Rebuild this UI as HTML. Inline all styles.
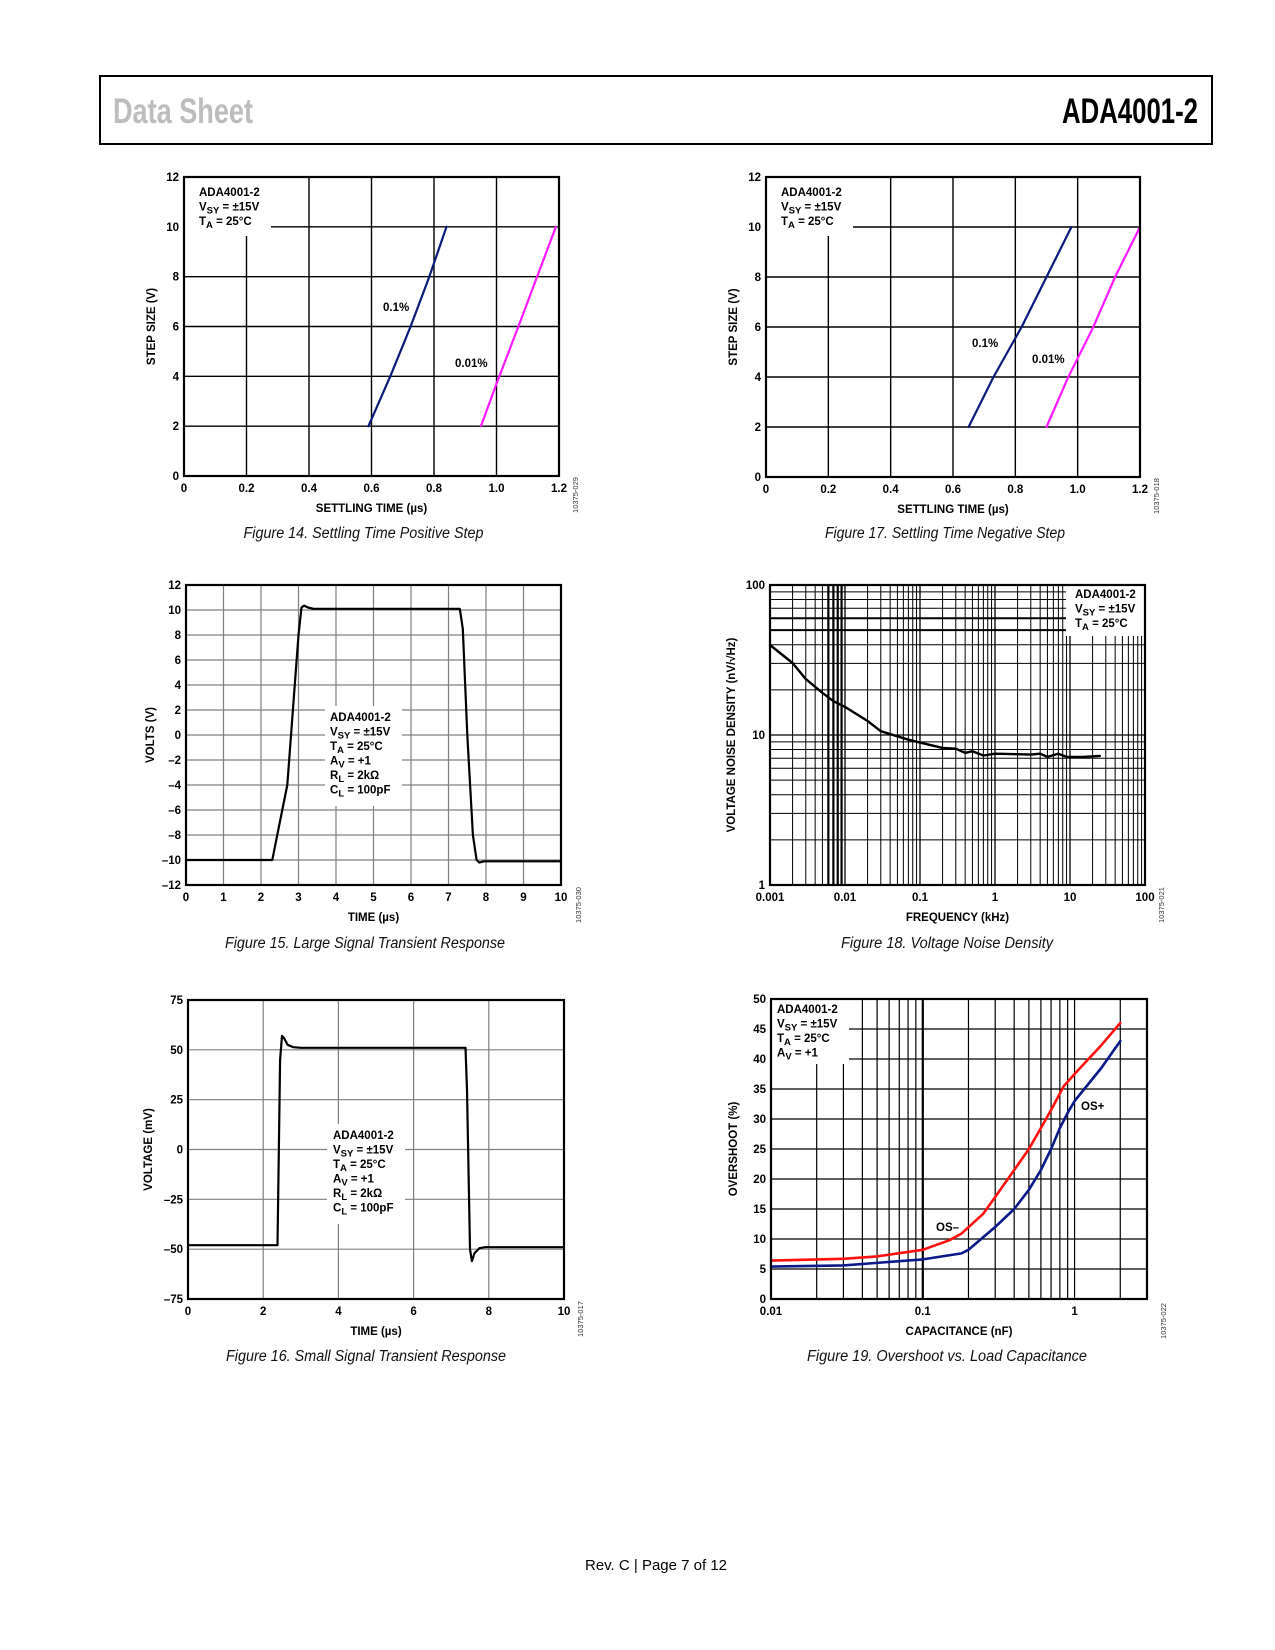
<!DOCTYPE html>
<html><head><meta charset="utf-8"><title>ADA4001-2 Data Sheet page 7</title>
<style>
html,body{margin:0;padding:0;background:#fff;}
svg{display:block;}
text{font-family:"Liberation Sans",Arial,sans-serif;}
</style></head>
<body>
<svg id="page" width="1275" height="1650" viewBox="0 0 1275 1650" xmlns="http://www.w3.org/2000/svg">
<rect x="100" y="76" width="1112" height="68" fill="#fff" stroke="#000" stroke-width="2"/>
<text x="113" y="123" font-size="35" fill="#bdbdbd" font-weight="bold" textLength="140" lengthAdjust="spacingAndGlyphs">Data Sheet</text>
<text x="1062" y="123" font-size="35" fill="#000" font-weight="bold" textLength="136" lengthAdjust="spacingAndGlyphs">ADA4001-2</text>
<text x="656" y="1570" font-size="15" text-anchor="middle" fill="#000">Rev. C | Page 7 of 12</text>
</svg>
<script>
// ---------- DATA ----------
const f14_x_ticks = ["0","0.2","0.4","0.6","0.8","1.0","1.2"];
const f14_y_ticks = ["0","2","4","6","8","10","12"];
const f14_p1_t = [0.59,0.66,0.725,0.785,0.84];
const f14_p1_v = [2,4,6,8,10];
const f14_p01_t = [0.95,1.0,1.07,1.13,1.19];
const f14_p01_v = [2,3.7,6,8,10];

const f17_p1_t = [0.65,0.73,0.82,0.90,0.98];
const f17_p1_v = [2,4,6,8,10];
const f17_p01_t = [0.90,0.97,1.05,1.12,1.2];
const f17_p01_v = [2,4,6,8,10];

const f15_x_ticks = ["0","1","2","3","4","5","6","7","8","9","10"];
const f15_y_ticks = ["–12","–10","–8","–6","–4","–2","0","2","4","6","8","10","12"];
const f15_t = [0,2.3,2.4,2.7,3.0,3.08,3.15,3.25,3.4,7.3,7.38,7.5,7.65,7.75,7.82,7.95,10];
const f15_v = [-10,-10,-8.5,-4,8,10.2,10.35,10.2,10.1,10.1,8.5,0,-8,-10,-10.2,-10.1,-10.1];

const f16_x_ticks = ["0","2","4","6","8","10"];
const f16_y_ticks = ["–75","–50","–25","0","25","50","75"];
const f16_t = [0,2.38,2.45,2.5,2.55,2.65,2.8,3.0,7.38,7.42,7.5,7.55,7.62,7.75,7.9,10];
const f16_v = [-48,-48,45,57,56,52.5,51.3,51,51,30,-50,-56,-52,-49.5,-49,-49];

const f18_x_ticks = ["0.001","0.01","0.1","1","10","100"];
const f18_y_ticks = ["1","10","100"];
const f18_f = [0.001,0.002,0.003,0.005,0.007,0.01,0.02,0.03,0.05,0.07,0.1,0.2,0.3,0.4,0.5,0.7,1,2,3,4,5,7,9,15,25];
const f18_n = [39.8,30.2,23.6,19.1,16.8,15.4,12.4,10.6,9.8,9.3,8.9,8.2,8.1,7.6,7.8,7.3,7.5,7.45,7.4,7.5,7.15,7.5,7.15,7.15,7.25];

const f19_x_ticks = ["0.01","0.1","1"];
const f19_y_ticks = ["0","5","10","15","20","25","30","35","40","45","50"];
const f19_c = [0.01,0.03,0.05,0.1,0.15,0.18,0.25,0.3,0.4,0.5,0.6,0.7,0.85,1,1.5,2];
const f19_osm = [6.4,6.7,7.1,8.2,9.8,10.9,14.2,17,21.5,25,28.5,31.5,35.5,37.5,42.3,46];
const f19_osp_c = [0.01,0.03,0.1,0.18,0.2,0.3,0.4,0.5,0.6,0.7,0.8,0.9,1,1.5,2];
const f19_osp = [5.4,5.6,6.6,7.6,8.2,12,15,18.2,21.5,25,28.5,31,33,38.5,43];

// ---------- HELPERS ----------
const NS = "http://www.w3.org/2000/svg";
const page = document.getElementById('page');
function mk(tag, parent, attrs){
  const e = document.createElementNS(NS, tag);
  for (const k in attrs) e.setAttribute(k, attrs[k]);
  parent.appendChild(e);
  return e;
}
function lin(a,b,p0,p1){ return v => p0 + (v-a)/(b-a)*(p1-p0); }
function logs(a,b,p0,p1){ const la=Math.log10(a), lb=Math.log10(b); return v => p0 + (Math.log10(v)-la)/(lb-la)*(p1-p0); }
function vline(g,x,y0,y1,col,w){
  const l = mk('line', g, {x1:x,x2:x,y1:y0,y2:y1,stroke:col,'stroke-width':w});
  
  
}
function hline(g,y,x0,x1,col,w){
  const l = mk('line', g, {x1:x0,x2:x1,y1:y,y2:y,stroke:col,'stroke-width':w});
  
  
}
function txt(g,x,y,s,size,anchor,extra){
  const t = mk('text', g, Object.assign({x:x,y:y,'font-size':size,'text-anchor':anchor||'start',fill:'#000'}, extra||{}));
  t.textContent = s;
  return t;
}
function series(g, xs, ys, fx, fy, col, w, name){
  let d = '';
  for (let i=0;i<xs.length;i++) d += (i?'L':'M') + fx(xs[i]).toFixed(1) + ' ' + fy(ys[i]).toFixed(1);
  const p = mk('path', g, {d:d, fill:'none', stroke:col, 'stroke-width':w, 'stroke-linejoin':'round','stroke-linecap':'round'});
  
  
}
function legend(g, x, y0, lines, anchor){
  lines.forEach((ln,i)=>{
    const t = mk('text', g, {x:x, y:y0+i*14.5, 'font-size':11.5, 'font-weight':'bold', fill:'#000'});
    
    
    const a = mk('tspan', t, {}); a.textContent = ln[0];
    if (ln.length>1){
      const b = mk('tspan', t, {dy:3,'font-size':9.5}); b.textContent = ln[1];
      const c = mk('tspan', t, {dy:-3}); c.textContent = ln[2];
    }
  });
}
function whiteBox(g,x,y,w,h){
  const r = mk('rect', g, {x:x,y:y,width:w,height:h,fill:'#fff'});
  
  
}
function frame(g,c){
  const r = mk('rect', g, {x:c.L,y:c.T,width:c.R-c.L,height:c.B-c.T,fill:'none',stroke:'#000','stroke-width':2.2});
  
  
}
function axisTitles(g,c,xt,yt,yx){
  const a = txt(g,(c.L+c.R)/2,c.B+36,xt,11.5,'middle',{'font-weight':'bold'});
  
  
  const cy=(c.T+c.B)/2;
  const b = txt(g,yx,cy,yt,11.5,'middle',{'font-weight':'bold',transform:`rotate(-90 ${yx} ${cy})`});
  
  
}
function caption(g,x,y,s,len){
  const t = txt(g,x,y,s,15.5,'middle',{'font-style':'italic',textLength:len,lengthAdjust:'spacingAndGlyphs',fill:'#111'});
  
  
}
function figId(g,x,y,s){
  const t = txt(g,x,y,s,7.5,'middle',{transform:`rotate(-90 ${x} ${y})`,fill:'#333'});
  
  
}
function xTickLabels(g,c,vals,labels,fx){
  labels.forEach((s,i)=>{
    const t = txt(g,fx(vals[i]),c.B+16,s,11.5,'middle',{'font-weight':'bold'});
    
    
  });
}
function yTickLabels(g,c,vals,labels,fy){
  labels.forEach((s,i)=>{
    const t = txt(g,c.L-5,fy(vals[i])+4,s,11.5,'end',{'font-weight':'bold'});
    
    
  });
}
const stdLegend = [["ADA4001-2"],["V","SY"," = ±15V"],["T","A"," = 25°C"]];
const extLegend = [["ADA4001-2"],["V","SY"," = ±15V"],["T","A"," = 25°C"],["A","V"," = +1"],["R","L"," = 2kΩ"],["C","L"," = 100pF"]];

// ---------- SETTLING CHARTS (Fig 14 & 17) ----------
function settling(c, name, p1t, p1v, p01t, p01v, lab1, lab01, cap, id){
  const g = mk('g', page, {});
  
  
  const fx = lin(0,1.2,c.L,c.R), fy = lin(0,12,c.B,c.T);
  const xv = f14_x_ticks.map(Number), yv = f14_y_ticks.map(Number);
  xv.forEach(v=>vline(g,fx(v),c.T,c.B,'#000',1.4));
  yv.forEach(v=>hline(g,fy(v),c.L,c.R,'#000',1.4));
  whiteBox(g,c.L+1,c.T+1,86,58);
  legend(g,c.L+15,c.T+19,stdLegend);
  series(g,p1t,p1v,fx,fy,'#0a1a7a',2.2,'series-0.1-percent');
  series(g,p01t,p01v,fx,fy,'#ff1aff',2.2,'series-0.01-percent');
  let t = txt(g,lab1[0],lab1[1],'0.1%',11.5,'start',{'font-weight':'bold'});
  
  
  t = txt(g,lab01[0],lab01[1],'0.01%',11.5,'start',{'font-weight':'bold'});
  
  
  frame(g,c);
  xTickLabels(g,c,xv,f14_x_ticks,fx);
  yTickLabels(g,c,yv,f14_y_ticks,fy);
  axisTitles(g,c,'SETTLING TIME (µs)','STEP SIZE (V)',c.L-29);
  caption(g,(c.L+c.R)/2-8,538,cap,240);
  figId(g,c.R+19,c.B+19,id);
}
settling({L:184,R:559,T:177,B:476},'chart-settling-positive',f14_p1_t,f14_p1_v,f14_p01_t,f14_p01_v,[383,311],[455,367],'Figure 14. Settling Time Positive Step','10375-029');
settling({L:766,R:1140,T:177,B:477},'chart-settling-negative',f17_p1_t,f17_p1_v,f17_p01_t,f17_p01_v,[972,347],[1032,363],'Figure 17. Settling Time Negative Step','10375-018');

// ---------- TRANSIENT CHARTS (Fig 15 & 16) ----------
(function(){
  const c = {L:186,R:561,T:585,B:885};
  const g = mk('g', page, {});
  
  
  const fx = lin(0,10,c.L,c.R), fy = lin(-12,12,c.B,c.T);
  const xv = f15_x_ticks.map(Number), yv = f15_y_ticks.map(s=>Number(s.replace('–','-')));
  xv.forEach(v=>vline(g,fx(v),c.T,c.B,'#808080',1.2));
  yv.forEach(v=>hline(g,fy(v),c.L,c.R,'#808080',1.2));
  whiteBox(g,325,706,77,100);
  legend(g,330,721,extLegend);
  series(g,f15_t,f15_v,fx,fy,'#000',2.2,'series-large-signal');
  frame(g,c);
  xTickLabels(g,c,xv,f15_x_ticks,fx);
  yTickLabels(g,c,yv,f15_y_ticks,fy);
  axisTitles(g,c,'TIME (µs)','VOLTS (V)',c.L-32);
  caption(g,365,948,'Figure 15. Large Signal Transient Response',280);
  figId(g,c.R+20,c.B+20,'10375-030');
})();
(function(){
  const c = {L:188,R:564,T:1000,B:1299};
  const g = mk('g', page, {});
  
  
  const fx = lin(0,10,c.L,c.R), fy = lin(-75,75,c.B,c.T);
  const xv = f16_x_ticks.map(Number), yv = f16_y_ticks.map(s=>Number(s.replace('–','-')));
  xv.forEach(v=>vline(g,fx(v),c.T,c.B,'#808080',1.2));
  yv.forEach(v=>hline(g,fy(v),c.L,c.R,'#808080',1.2));
  whiteBox(g,327,1124,78,100);
  legend(g,333,1139,extLegend);
  series(g,f16_t,f16_v,fx,fy,'#000',2.2,'series-small-signal');
  frame(g,c);
  xTickLabels(g,c,xv,f16_x_ticks,fx);
  yTickLabels(g,c,yv,f16_y_ticks,fy);
  axisTitles(g,c,'TIME (µs)','VOLTAGE (mV)',c.L-36);
  caption(g,366,1361,'Figure 16. Small Signal Transient Response',280);
  figId(g,c.R+19,c.B+20,'10375-017');
})();

// ---------- NOISE DENSITY (Fig 18) ----------
(function(){
  const c = {L:770,R:1145,T:585,B:885};
  const g = mk('g', page, {});
  
  
  const fx = logs(0.001,100,c.L,c.R), fy = logs(1,100,c.B,c.T);
  for (let d=0.001; d<99; d*=10){
    for (let k=1;k<=9;k++){
      const v=k*d; const thick = (k>=6 && d===0.001) ? 2.2 : 1;
      vline(g,fx(v),c.T,c.B,'#000',k===1?1.3:thick);
    }
  }
  for (let d=1; d<99; d*=10){
    for (let k=1;k<=9;k++){
      const v=k*d; const thick = (d===10 && (k===5||k===6)) ? 2 : 1;
      hline(g,fy(v),c.L,c.R,'#000',k===1?1.3:thick);
    }
  }
  whiteBox(g,1066,586,78,50);
  legend(g,1075,598,stdLegend);
  series(g,f18_f,f18_n,fx,fy,'#000',2.4,'series-noise-density');
  frame(g,c);
  xTickLabels(g,c,f18_x_ticks.map(Number),f18_x_ticks,fx);
  yTickLabels(g,c,f18_y_ticks.map(Number),f18_y_ticks,fy);
  axisTitles(g,c,'FREQUENCY (kHz)','VOLTAGE NOISE DENSITY (nV/√Hz)',c.L-35);
  caption(g,947,948,'Figure 18. Voltage Noise Density',212);
  figId(g,c.R+19,c.B+20,'10375-021');
})();

// ---------- OVERSHOOT (Fig 19) ----------
(function(){
  const c = {L:771,R:1147,T:999,B:1299};
  const g = mk('g', page, {});
  
  
  const fx = logs(0.01,3,c.L,c.R), fy = lin(0,50,c.B,c.T);
  for (let d=0.01; d<2.9; d*=10){
    for (let k=1;k<=9;k++){
      const v=k*d; if (v>=2.95) break;
      vline(g,fx(v),c.T,c.B,'#000',(k===1 && Math.abs(d-0.1)<1e-9)?2.2:1.2);
    }
  }
  const yv = f19_y_ticks.map(Number);
  yv.forEach(v=>hline(g,fy(v),c.L,c.R,'#000',1.2));
  whiteBox(g,772,1000,77,64);
  legend(g,777,1013,[["ADA4001-2"],["V","SY"," = ±15V"],["T","A"," = 25°C"],["A","V"," = +1"]]);
  series(g,f19_c,f19_osm,fx,fy,'#ff1010',2.6,'series-os-minus');
  series(g,f19_osp_c,f19_osp,fx,fy,'#0a1a8a',2.6,'series-os-plus');
  let t = txt(g,936,1231,'OS–',11.5,'start',{'font-weight':'bold'});
  
  
  t = txt(g,1081,1110,'OS+',11.5,'start',{'font-weight':'bold'});
  
  
  frame(g,c);
  xTickLabels(g,c,f19_x_ticks.map(Number),f19_x_ticks,fx);
  yTickLabels(g,c,yv,f19_y_ticks,fy);
  axisTitles(g,c,'CAPACITANCE (nF)','OVERSHOOT (%)',c.L-34);
  caption(g,947,1361,'Figure 19. Overshoot vs. Load Capacitance',280);
  figId(g,c.R+19,c.B+22,'10375-022');
})();
</script>
</body></html>
